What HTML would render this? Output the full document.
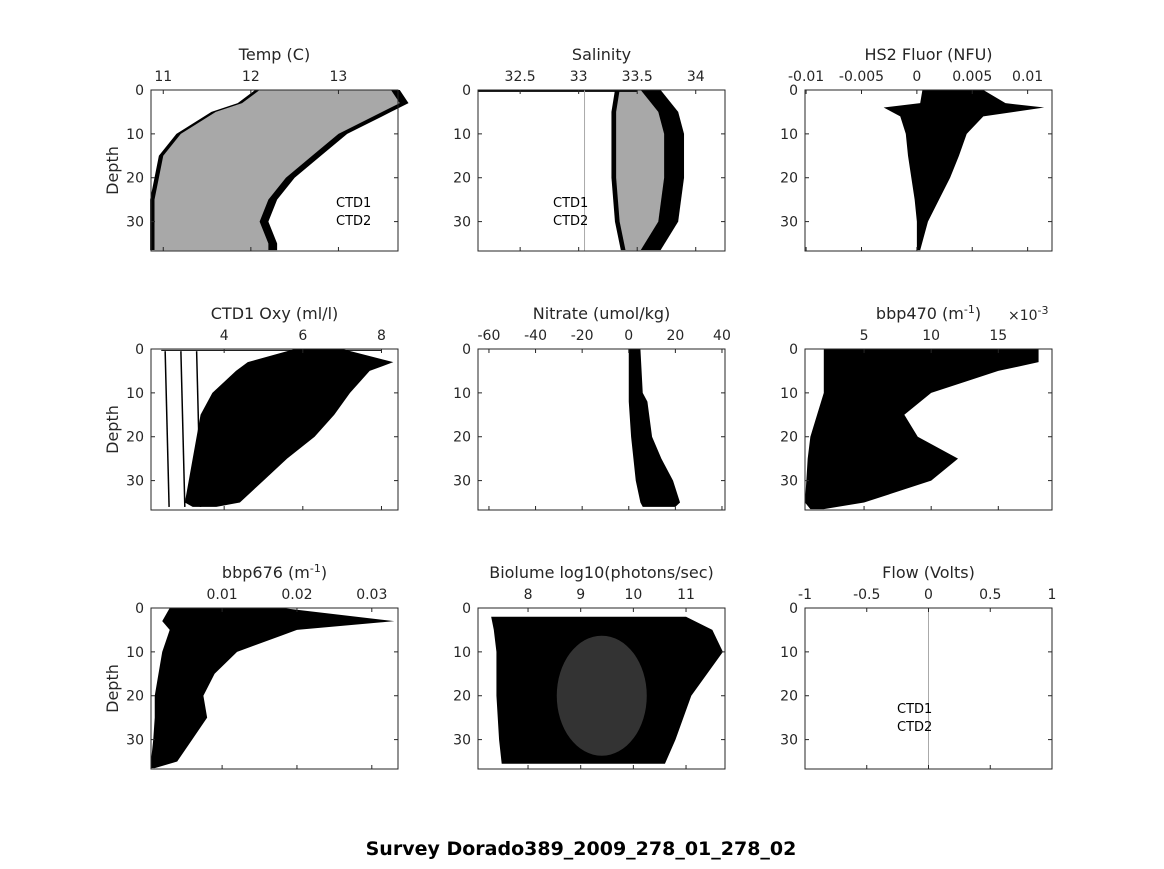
<!DOCTYPE html>
<html><head><meta charset="utf-8"><style>
body{margin:0;background:#fff}
svg text{font-family:"DejaVu Sans","Liberation Sans",sans-serif;fill:#262626}
</style></head><body>
<svg id="c" width="1164" height="864" xmlns="http://www.w3.org/2000/svg">
<text x="581" y="855" text-anchor="middle" font-size="19" font-weight="bold" style="fill:#000">Survey Dorado389_2009_278_01_278_02</text>
</svg>
<script>
// ---- data arrays ----
const depthTicks=[0,10,20,30];
const tempTicks=[11,12,13];
const salTicks=[32.5,33,33.5,34];
const fluorTicks=[-0.01,-0.005,0,0.005,0.01];
const fluorTickLabels=["-0.01","-0.005","0","0.005","0.01"];
const oxyTicks=[4,6,8];
const nitTicks=[-60,-40,-20,0,20,40];
const b470Ticks=[5,10,15];
const b676Ticks=[0.01,0.02,0.03];
const bioTicks=[8,9,10,11];
const flowTicks=[-1,-0.5,0,0.5,1];

const tempDepth=[0,3,5,10,15,20,25,30,35,36.5];
const tempMin=[12.1,11.9,11.6,11.2,11.0,10.95,10.9,10.9,10.9,10.9];
const tempMax=[13.6,13.7,13.5,13.0,12.7,12.4,12.2,12.1,12.2,12.2];
const salDepth=[0,5,10,20,30,36.5];
const salMin=[33.35,33.32,33.32,33.32,33.35,33.4];
const salMax=[33.7,33.85,33.9,33.9,33.85,33.7];
const fluorDepth=[0,3,4,6,10,15,20,25,30,36.5];
const fluorMin=[0.0005,0.0003,-0.003,-0.0015,-0.001,-0.0008,-0.0005,-0.0002,0,0];
const fluorMax=[0.006,0.008,0.0115,0.006,0.0045,0.0038,0.003,0.002,0.001,0.0003];
const oxyDepth=[0,3,5,10,15,20,25,30,35,36];
const oxyMin=[5.8,4.6,4.3,3.7,3.4,3.3,3.2,3.1,3.0,3.2];
const oxyMax=[7.0,8.3,7.7,7.2,6.8,6.3,5.6,5.0,4.4,3.8];
const nitDepth=[0,10,12,20,25,30,35,36];
const nitMin=[0,0,0,1,2,3,5,6];
const nitMax=[5,6,8,10,14,19,22,20];
const b470Depth=[0,3,5,10,15,20,25,30,35,36.5];
const b470Min=[2,2,2,2,1.5,1,0.8,0.7,0.6,1];
const b470Max=[18,18,15,10,8,9,12,10,5,2];
const b676Depth=[0,3,5,10,15,20,25,30,35,36.5];
const b676Min=[0.003,0.002,0.003,0.002,0.0015,0.001,0.001,0.0008,0.0005,0.0005];
const b676Max=[0.018,0.033,0.02,0.012,0.009,0.0075,0.008,0.006,0.004,0.001];
const bioDepth=[2,5,10,20,30,35.5];
const bioMin=[7.3,7.35,7.4,7.4,7.45,7.5];
const bioMax=[11.0,11.5,11.7,11.1,10.8,10.6];

const svg=document.getElementById('c');
const NS="http://www.w3.org/2000/svg";
function el(tag,attrs,parent){const e=document.createElementNS(NS,tag);for(const k in attrs)e.setAttribute(k,attrs[k]);(parent||svg).appendChild(e);return e;}
const cols=[151,478,805], rows=[90,349,608], W=247, H=161, DMAX=36.7;

function panel(c,r,xmin,xmax,ticks,labels,title,name,showDepth){
  const x0=cols[c],y0=rows[r];
  const g=el('g',{});
  
  
  const sx=v=>x0+(v-xmin)/(xmax-xmin)*W;
  const sy=d=>y0+d/DMAX*H;
  const p={g,sx,sy,x0,y0};
  p.band=function(depths,mins,maxs,fill,nm){
    let pts=[];
    depths.forEach((d,i)=>pts.push(sx(mins[i])+','+sy(d)));
    for(let i=depths.length-1;i>=0;i--)pts.push(sx(maxs[i])+','+sy(depths[i]));
    const e=el('polygon',{points:pts.join(' '),fill:fill},g);
    
    
  };
  p.finish=function(){
    const f=el('rect',{x:x0,y:y0,width:W,height:H,fill:'none',stroke:'#262626','stroke-width':1},g);
    
    
    ticks.forEach((t,i)=>{
      const x=sx(t);
      el('line',{x1:x,x2:x,y1:y0,y2:y0+4,stroke:'#262626'},g);
      el('line',{x1:x,x2:x,y1:y0+H,y2:y0+H-4,stroke:'#262626'},g);
      const tx=el('text',{x:x,y:y0-9,'text-anchor':'middle','font-size':14},g);
      tx.textContent=labels?labels[i]:String(t);
      
      
    });
    depthTicks.forEach(d=>{
      const y=sy(d);
      el('line',{x1:x0,x2:x0+4,y1:y,y2:y,stroke:'#262626'},g);
      el('line',{x1:x0+W,x2:x0+W-4,y1:y,y2:y,stroke:'#262626'},g);
      const tx=el('text',{x:x0-7,y:y+5,'text-anchor':'end','font-size':14},g);
      tx.textContent=d;
      
      
    });
    const tt=el('text',{x:x0+W/2,y:y0-30,'text-anchor':'middle','font-size':16},g);
    tt.innerHTML=title;
    
    
    if(showDepth){
      const yl=el('text',{x:0,y:0,'text-anchor':'middle','font-size':16,transform:`translate(${x0-33},${y0+H/2}) rotate(-90)`},g);
      yl.textContent='Depth';
      
      
    }
  };
  p.legend=function(x,y){
    ['CTD1','CTD2'].forEach((s,i)=>{
      const t=el('text',{x:x,y:y+i*18,'font-size':13,style:'fill:#000'},g);
      t.textContent=s;
      
      
    });
  };
  return p;
}

// Temp
let p=panel(0,0,10.86,13.68,tempTicks,null,'Temp (C)','temp',true);
p.band(tempDepth,tempMin.map(v=>v-0.05),tempMax.map(v=>v+0.1),'#000','temp-ctd1-band');
p.band(tempDepth,tempMin,tempMax,'#a8a8a8','temp-ctd2-band');
p.legend(p.x0+185,p.y0+117);p.finish();
// Salinity
p=panel(1,0,32.14,34.25,salTicks,null,'Salinity','salinity',false);
p.band(salDepth,salMin.map(v=>v-0.04),salMax,'#000','salinity-ctd1-band');
p.band(salDepth,salMin,salMax.map(v=>v-0.17),'#a8a8a8','salinity-ctd2-band');
el('line',{x1:p.sx(32.14),x2:p.sx(33.5),y1:p.sy(0.2),y2:p.sy(0.2),stroke:'#000','stroke-width':2},p.g);
el('line',{x1:p.sx(33.05),x2:p.sx(33.05),y1:p.sy(0),y2:p.sy(36.7),stroke:'#aaa'},p.g);
p.legend(p.x0+75,p.y0+117);p.finish();
// HS2
p=panel(2,0,-0.0101,0.0122,fluorTicks,fluorTickLabels,'HS2 Fluor (NFU)','hs2-fluor',false);
p.band(fluorDepth,fluorMin,fluorMax,'#000','hs2-fluor-band');p.finish();
// Oxy
p=panel(0,1,2.14,8.42,oxyTicks,null,'CTD1 Oxy (ml/l)','oxygen',true);
p.band(oxyDepth,oxyMin,oxyMax,'#000','oxygen-band');
[2.5,2.9,3.3].forEach(v=>el('line',{x1:p.sx(v),x2:p.sx(v+0.1),y1:p.sy(0.5),y2:p.sy(36),stroke:'#000','stroke-width':1.5},p.g));
el('line',{x1:p.sx(2.4),x2:p.sx(8),y1:p.sy(0.3),y2:p.sy(0.3),stroke:'#000'},p.g);
p.finish();
// Nitrate
p=panel(1,1,-64.7,41.3,nitTicks,null,'Nitrate (umol/kg)','nitrate',false);
p.band(nitDepth,nitMin,nitMax,'#000','nitrate-band');p.finish();
// bbp470
p=panel(2,1,0.6,19.0,b470Ticks,null,'bbp470 (m<tspan dy="-6" font-size="11">-1</tspan><tspan dy="6">)</tspan>','bbp470',false);
p.band(b470Depth,b470Min,b470Max,'#000','bbp470-band');p.finish();
const sc=el('text',{x:1008,y:320,'font-size':14});sc.innerHTML='×10<tspan dy="-6" font-size="11">-3</tspan>';


// bbp676
p=panel(0,2,0.0005,0.0335,b676Ticks,null,'bbp676 (m<tspan dy="-6" font-size="11">-1</tspan><tspan dy="6">)</tspan>','bbp676',true);
p.band(b676Depth,b676Min,b676Max,'#000','bbp676-band');p.finish();
// Biolume
p=panel(1,2,7.05,11.74,bioTicks,null,'Biolume log10(photons/sec)','biolume',false);
p.band(bioDepth,bioMin,bioMax,'#000','biolume-band');
el('ellipse',{cx:p.sx(9.4),cy:p.sy(20),rx:45,ry:60,fill:'#fff',opacity:0.2},p.g);
p.finish();
// Flow
p=panel(2,2,-1,1,flowTicks,null,'Flow (Volts)','flow',false);
el('line',{x1:p.sx(0),x2:p.sx(0),y1:p.sy(0),y2:p.sy(36.7),stroke:'#aaa'},p.g);
p.legend(p.x0+92,p.y0+105);p.finish();
</script>
</body></html>
